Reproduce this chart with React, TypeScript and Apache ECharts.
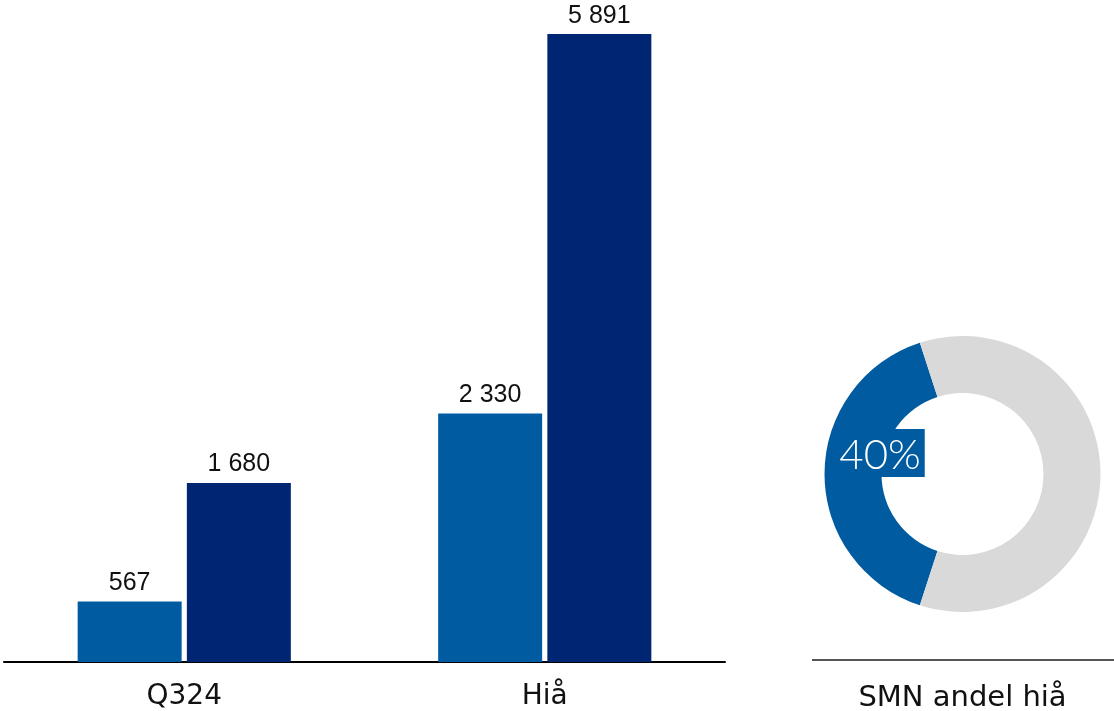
import React, { useEffect, useRef } from "react";
import * as echarts from "echarts";

// Categories and values for the grouped bars
const categories = ["Q324", "Hiå"];
const smnValues = [567, 2330];
const totalValues = [1680, 5891];

// Share shown in the donut (percent)
const shareLabels = ["SMN", "Andre"];
const shareValues = [40, 60];
const donutTitle = "SMN andel hiå";

const LIGHT_BLUE = "#005BA1";
const NAVY = "#002673";
const GREY = "#D9D9D9";

const formatThousands = (v: number) =>
  String(v).replace(/\B(?=(\d{3})+(?!\d))/g, " ");

export default function App() {
  const ref = useRef<HTMLDivElement>(null);

  useEffect(() => {
    if (!ref.current) return;
    const chart = echarts.init(ref.current, null, { renderer: "svg" });

    const barLabel = {
      show: true,
      position: "top" as const,
      distance: 8,
      color: "#111",
      fontFamily: "Liberation Sans, Arial, sans-serif",
      fontSize: 25,
      formatter: (p: any) => formatThousands(p.value),
    };

    chart.setOption({
      animation: false,
      grid: { left: 4, right: 389, top: 22.4, bottom: 49, containLabel: false },
      xAxis: {
        type: "category",
        data: categories,
        axisTick: { show: false },
        axisLine: { show: true, lineStyle: { color: "#000", width: 2 } },
        axisLabel: {
          color: "#111",
          fontFamily: "DejaVu Sans, sans-serif",
          fontSize: 28,
          lineHeight: 28,
          margin: 18,
        },
      },
      yAxis: {
        type: "value",
        min: 0,
        max: 6000,
        show: false,
        splitLine: { show: false },
      },
      series: [
        {
          name: "SMN",
          type: "bar",
          data: smnValues,
          barWidth: 104,
          barGap: "5%",
          itemStyle: { color: LIGHT_BLUE },
          label: barLabel,
        },
        {
          name: "Sum",
          type: "bar",
          data: totalValues,
          barWidth: 104,
          barGap: "5%",
          itemStyle: { color: NAVY },
          label: barLabel,
        },
        {
          name: "Andel",
          type: "pie",
          center: [962.5, 474],
          radius: [81, 138],
          startAngle: 252,
          clockwise: true,
          silent: true,
          emphasis: { disabled: true },
          labelLine: { show: false },
          labelLayout: { dx: 30, dy: -21 },
          data: shareValues.map((v, i) => ({
            value: v,
            name: shareLabels[i],
            itemStyle: { color: i === 0 ? LIGHT_BLUE : GREY },
            label:
              i === 0
                ? {
                    show: true,
                    position: "inside",
                    formatter: "{c}%",
                    color: "#fff",
                    fontFamily: "Lato, sans-serif",
                    fontWeight: 300,
                    fontSize: 42,
                    lineHeight: 44,
                    backgroundColor: LIGHT_BLUE,
                    padding: [2, 4, 2, 4],
                  }
                : { show: false },
          })),
        },
      ],
      graphic: [
        {
          type: "line",
          shape: { x1: 812, y1: 660, x2: 1114, y2: 660 },
          style: { stroke: "#555", lineWidth: 2 },
          silent: true,
        },
        {
          type: "text",
          x: 962.5,
          y: 695.5,
          style: {
            text: donutTitle,
            fill: "#111",
            fontFamily: "DejaVu Sans, sans-serif",
            fontSize: 29,
            lineHeight: 29,
            textAlign: "center",
            textVerticalAlign: "middle",
          },
          silent: true,
        },
      ],
    });

    return () => chart.dispose();
  }, []);

  return (
    <div
      ref={ref}
      style={{ position: "fixed", left: 0, top: 0, width: 1114, height: 711 }}
    />
  );
}
